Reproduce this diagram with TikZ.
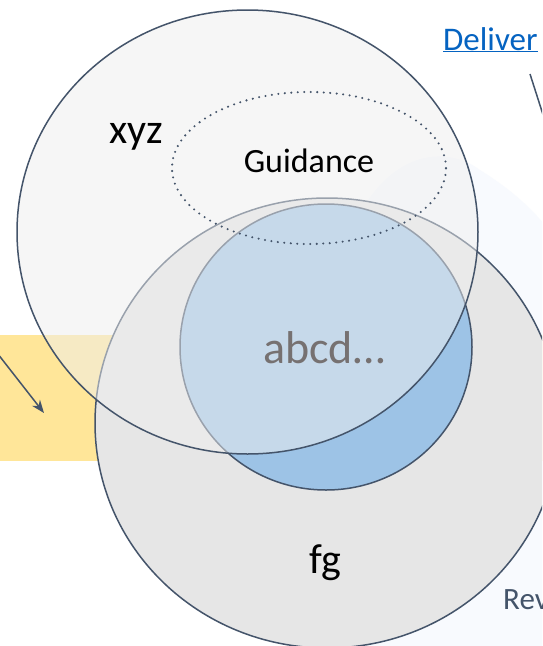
\documentclass[tikz,border=0pt]{standalone}
\usepackage{fontspec}
\setmainfont{Carlito}
\usetikzlibrary{arrows.meta}
\definecolor{slate}{HTML}{44546A}
\definecolor{setgray}{HTML}{E6E6E6}
\definecolor{setblue}{HTML}{9DC3E6}
\definecolor{veil}{HTML}{EFEFEF}
\definecolor{note}{HTML}{FFE699}
\definecolor{haze}{HTML}{F8FAFE}
\definecolor{linkblue}{HTML}{0563C1}
\definecolor{muted}{HTML}{767171}
\tikzset{
  setline/.style={draw=slate, line width=1.5pt},
  lbl/.style={anchor=base, inner sep=0pt, font=#1},
}
\newcommand{\fsz}[1]{\fontsize{#1}{#1}\selectfont}
\begin{document}
\begin{tikzpicture}[x=1pt,y=-1pt]
  \useasboundingbox (0,0) rectangle (542,646);
  \clip (0,0) rectangle (542,646);
  \fill[white] (0,0) rectangle (542,646);
  % faint backdrop on the right, mostly behind the sets
  \fill[haze] (330,300) .. controls (360,150) and (440,140) .. (480,170)
    .. controls (520,195) and (545,220) .. (570,260) -- (570,660) -- (330,660) -- cycle;
  % side notes
  \fill[note] (-10,335) rectangle (160,461);
  \fill[note] (537,335) rectangle (620,461);
  \coordinate (arrowfrom) at (-6,349);
  \coordinate (arrowto) at (44,413);
  \draw[slate, line width=1.5pt, -{Stealth[length=13pt,width=10pt]}] (arrowfrom) -- (arrowto);
  % sets
  \path[setline, fill=setgray] (327,423) ellipse [x radius=232pt, y radius=225pt];
  \path[setline, fill=setblue] (326,347) ellipse [x radius=146pt, y radius=143pt];
  \path[setline, fill=veil, fill opacity=0.5] (247.5,232) ellipse [x radius=230.5pt, y radius=222pt];
  \draw[slate, line width=2.3pt, line cap=round, dash pattern=on 0pt off 6.5pt]
    (309,168) ellipse [x radius=137pt, y radius=76pt];
  % labels
  \node[lbl=\fsz{42}] (xyz) at (136.5,143) {xyz};
  \node[lbl=\fsz{34}] (guid) at (309,172.5) {Guidance};
  \node[lbl=\fsz{46}, text=muted] (abcd) at (324,363) {abcd…};
  \node[lbl=\fsz{42}] (fg) at (325.5,573) {fg};
  \node[lbl=\fsz{33}, text=linkblue, anchor=base west] (deliv) at (443,50) {\underline{Deliver}};
  \node[lbl=\fsz{31}, text=slate, anchor=base west] (rev) at (503,609) {Rev};
  \coordinate (linkfrom) at (530,74);
  \coordinate (linkto) at (546,124);
  \draw[slate, line width=1.5pt] (linkfrom) -- (linkto);
\end{tikzpicture}
\end{document}
